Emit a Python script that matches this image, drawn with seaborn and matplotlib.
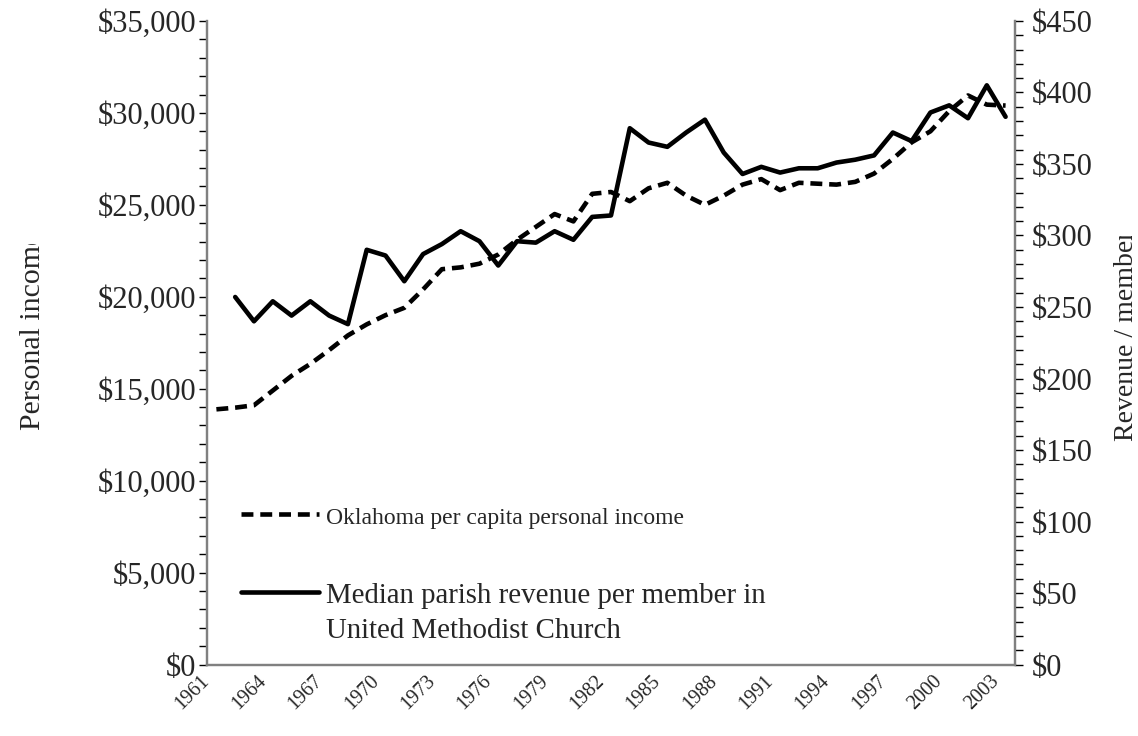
import numpy as np
import pandas as pd
import matplotlib
matplotlib.use("Agg")
import matplotlib.pyplot as plt
import seaborn as sns
from matplotlib.ticker import MultipleLocator, FuncFormatter
from matplotlib.transforms import Bbox, TransformedBbox, ScaledTranslation
from matplotlib.legend_handler import HandlerLine2D

# ── Data ─────────────────────────────────────────────────────────────────────
years = list(range(1961, 2004))
income = [13880, 13970, 14100, 14900, 15700, 16350, 17100, 17900, 18500, 19000,
          19400, 20400, 21500, 21600, 21800, 22300, 23100, 23800, 24500, 24100,
          25600, 25700, 25200, 25900, 26200, 25500, 25000, 25500, 26100, 26400,
          25800, 26200, 26150, 26100, 26250, 26700, 27500, 28400, 29000, 30100,
          30950, 30450, 30400]

revenue_years = list(range(1962, 2004))
revenue = [257, 240, 254, 244, 254, 244, 238, 290, 286, 268,
           287, 294, 303, 296, 279, 296, 295, 303, 297, 313,
           314, 375, 365, 362, 372, 381, 358, 343, 348, 344,
           347, 347, 351, 353, 356, 372, 366, 386, 391, 382,
           405, 383]

tick_years = years[::3]
income_label = "Oklahoma per capita personal income"
revenue_label = "Median parish revenue per member in\nUnited Methodist Church"


class UpperLineHandler(HandlerLine2D):
    """Legend line drawn level with the first line of a two-line label."""

    def __init__(self, shift, **kw):
        super().__init__(**kw)
        self.shift = shift

    def create_artists(self, legend, orig_handle, xdescent, ydescent,
                       width, height, fontsize, trans):
        artists = super().create_artists(legend, orig_handle, xdescent, ydescent,
                                         width, height, fontsize, trans)
        for a in artists:
            a.set_ydata(np.asarray(a.get_ydata(), dtype=float) + self.shift)
        return artists


# ── Style ────────────────────────────────────────────────────────────────────
sns.set_style("white")
plt.rcParams["font.family"] = ["Liberation Serif", "DejaVu Serif"]
SPINE = "#808080"
LW = 3.3

fig = plt.figure(figsize=(11.38, 7.36), dpi=100)
ax = fig.add_axes([0.1819, 0.0971, 0.7100, 0.8744])
ax2 = ax.twinx()

sns.lineplot(x=years, y=income, ax=ax, color="black", linewidth=LW,
             linestyle=(0, (2.6, 1.5)), label=income_label)
sns.lineplot(x=revenue_years, y=revenue, ax=ax2, color="black", linewidth=LW,
             label=revenue_label)
for ln in ax.lines + ax2.lines:
    ln.set_solid_joinstyle("round")
    ln.set_dash_joinstyle("round")

# ── Axes ─────────────────────────────────────────────────────────────────────
ax.set_xlim(1960.5, 2003.5)
ax.set_ylim(0, 35000)
ax2.set_ylim(0, 450)

ax.set_xticks(tick_years)
ax.set_xticklabels([str(y) for y in tick_years], rotation=45, ha="right",
                   fontsize=14.5)
ax.tick_params(axis="x", length=0, pad=5)
shift_left = ScaledTranslation(-2 / 72, 0, fig.dpi_scale_trans)
for lab in ax.get_xticklabels():
    lab.set_transform(lab.get_transform() + shift_left)

money = FuncFormatter(lambda v, p: f"${v:,.0f}")
ax.yaxis.set_major_locator(MultipleLocator(5000))
ax.yaxis.set_minor_locator(MultipleLocator(1000))
ax.yaxis.set_major_formatter(money)
ax.tick_params(axis="y", which="both", direction="out", length=6, width=1,
               color="black", labelsize=22, pad=2, left=True)

ax2.yaxis.set_major_locator(MultipleLocator(50))
ax2.yaxis.set_minor_locator(MultipleLocator(10))
ax2.yaxis.set_major_formatter(money)
ax2.tick_params(axis="y", which="both", direction="out", length=6, width=1,
                color="black", labelsize=22, pad=6, right=True)

for a in (ax, ax2):
    a.spines["top"].set_visible(False)
    for s in ("left", "right", "bottom"):
        a.spines[s].set_color(SPINE)
        a.spines[s].set_linewidth(1.6)
    a.grid(False)

# axis titles, clipped at the top like the original text boxes
ax.set_ylabel("Personal income", fontsize=21.5)
ax.yaxis.set_label_coords(-0.199, 0.518)
ax2.set_ylabel("Revenue / member", fontsize=20, rotation=90)
ax2.yaxis.set_label_coords(1.122, 0.511)
for lab, top in ((ax.yaxis.label, 0.668), (ax2.yaxis.label, 0.679)):
    lab.set_clip_box(TransformedBbox(Bbox([[0, 0], [1, top]]), fig.transFigure))
    lab.set_clip_on(True)

# ── Legend ───────────────────────────────────────────────────────────────────
h1, l1 = ax.get_legend_handles_labels()
h2, l2 = ax2.get_legend_handles_labels()
ax.get_legend().remove()
ax2.get_legend().remove()
leg = ax2.legend(h1 + h2, l1 + l2, loc="upper left", bbox_to_anchor=(0.01, 0.29),
                 frameon=False, fontsize=20.8, handlelength=2.7, handletextpad=0.25,
                 labelspacing=1.85,
                 handler_map={h2[0]: UpperLineHandler(shift=15)})
texts = leg.get_texts()
texts[0].set_fontsize(17)
texts[1].set_linespacing(1.45)

fig.savefig("out.png", dpi=100)
